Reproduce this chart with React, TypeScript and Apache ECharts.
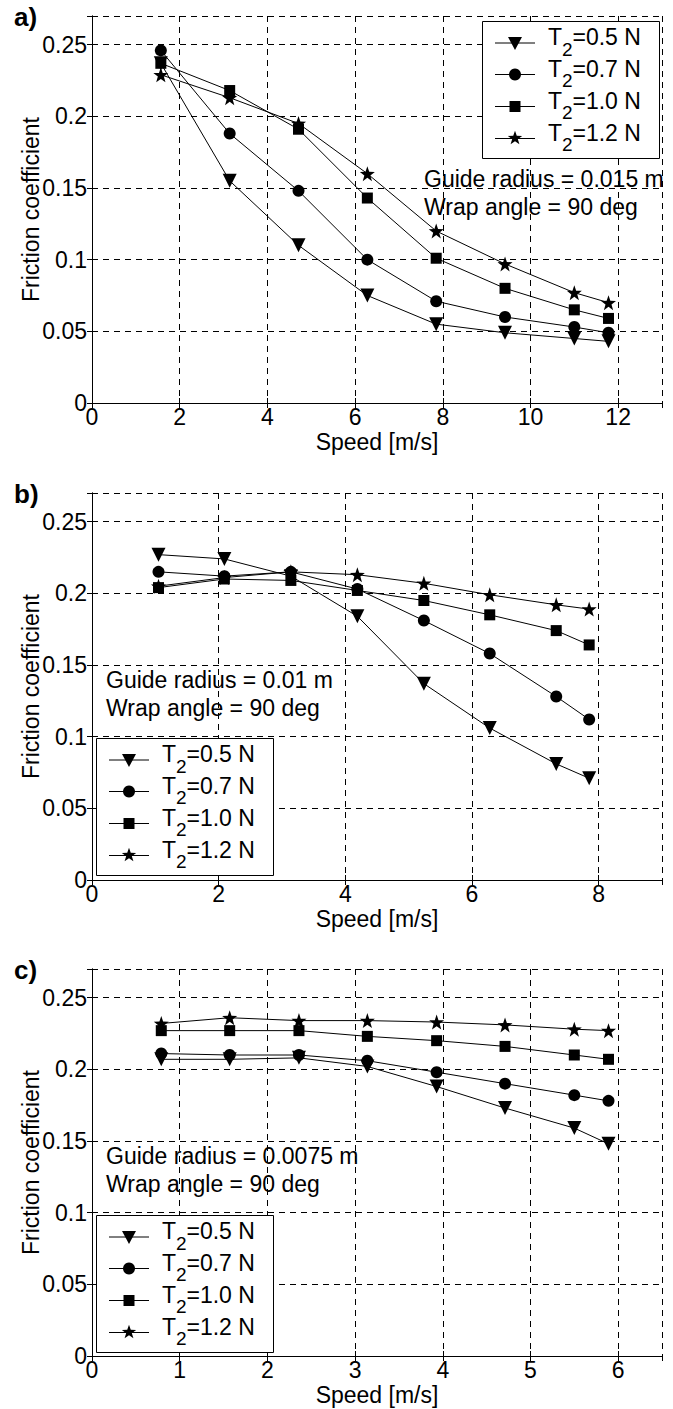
import React, { useEffect, useRef } from 'react';
import * as echarts from 'echarts';

// ---------- data ----------
const seriesNames = ['T2=0.5 N', 'T2=0.7 N', 'T2=1.0 N', 'T2=1.2 N'];
const legendRest = ['=0.5 N', '=0.7 N', '=1.0 N', '=1.2 N'];

const speedA = [1.57, 3.14, 4.71, 6.28, 7.85, 9.42, 11.0, 11.78];
const aT05 = [0.237, 0.155, 0.110, 0.075, 0.055, 0.049, 0.045, 0.043];
const aT07 = [0.246, 0.188, 0.148, 0.100, 0.071, 0.060, 0.053, 0.049];
const aT10 = [0.237, 0.218, 0.191, 0.143, 0.101, 0.080, 0.065, 0.059];
const aT12 = [0.229, 0.213, 0.195, 0.160, 0.120, 0.097, 0.077, 0.070];

const speedB = [1.05, 2.09, 3.14, 4.19, 5.24, 6.28, 7.33, 7.85];
const bT05 = [0.227, 0.224, 0.212, 0.184, 0.137, 0.106, 0.081, 0.071];
const bT07 = [0.215, 0.212, 0.215, 0.203, 0.181, 0.158, 0.128, 0.112];
const bT10 = [0.204, 0.210, 0.209, 0.202, 0.195, 0.185, 0.174, 0.164];
const bT12 = [0.205, 0.211, 0.215, 0.213, 0.207, 0.199, 0.192, 0.189];

const speedC = [0.79, 1.57, 2.36, 3.14, 3.93, 4.71, 5.5, 5.89];
const cT05 = [0.207, 0.207, 0.208, 0.202, 0.188, 0.173, 0.159, 0.148];
const cT07 = [0.211, 0.210, 0.210, 0.206, 0.198, 0.190, 0.182, 0.178];
const cT10 = [0.227, 0.227, 0.227, 0.223, 0.220, 0.216, 0.210, 0.207];
const cT12 = [0.232, 0.236, 0.234, 0.234, 0.233, 0.231, 0.228, 0.227];

const panelSpeeds = [speedA, speedB, speedC];
const panelValues = [
  [aT05, aT07, aT10, aT12],
  [bT05, bT07, bT10, bT12],
  [cT05, cT07, cT10, cT12],
];

const yMax = 0.27;
const yInterval = 0.05;
const xMaxes = [13, 9, 6.5];
const xIntervals = [2, 2, 1];

const panelLabels = ['a)', 'b)', 'c)'];
const guideTexts = ['Guide radius = 0.015 m', 'Guide radius = 0.01 m', 'Guide radius = 0.0075 m'];
const wrapText = 'Wrap angle = 90 deg';
const xName = 'Speed [m/s]';
const yName = 'Friction coefficient';

// ---------- layout / style ----------
const FONT = '"Liberation Sans", Arial, Helvetica, sans-serif';
const FS = 23;
const W = 673;
const H = 1409;
const GRID_LEFT = 92;
const GRID_W = 570;
const GRID_H = 387;
const GRID_TOPS = [16, 493, 969];
const YNAME_X = 31;
const LEGEND_POS = [
  [482, 21],
  [96, 738],
  [96, 1215],
];
const LEGEND_W = 177;
const LEGEND_H = 137;
const LEGEND_ROWS = [22, 53.5, 85.5, 117.5];
const NOTE_POS = [
  [424, 179, 207],
  [106, 680, 708],
  [106, 1156, 1184],
];

const STAR =
  'path://M50,0L61.76,33.82L97.55,34.55L69.02,56.18L79.39,90.45L50,70L20.61,90.45L30.98,56.18L2.45,34.55L38.24,33.82Z';
const SYMBOLS = ['triangle', 'circle', 'rect', STAR];
const SYMBOL_ROT = [180, 0, 0, 0];
const SYMBOL_SIZE = [14, 12, 11, 15];

function legendMarker(i: number, cx: number, cy: number): any {
  const style = { fill: '#000', stroke: '#000', lineWidth: 0 };
  if (i === 0) {
    return { type: 'polygon', shape: { points: [[cx - 7, cy - 6], [cx + 7, cy - 6], [cx, cy + 7]] }, style };
  }
  if (i === 1) {
    return { type: 'circle', shape: { cx, cy, r: 6 }, style };
  }
  if (i === 2) {
    return { type: 'rect', shape: { x: cx - 5.5, y: cy - 5.5, width: 11, height: 11 }, style };
  }
  const pts: number[][] = [
    [50, 0], [61.76, 33.82], [97.55, 34.55], [69.02, 56.18], [79.39, 90.45],
    [50, 70], [20.61, 90.45], [30.98, 56.18], [2.45, 34.55], [38.24, 33.82],
  ].map(([px, py]) => [cx + (px - 50) * 0.15, cy + (py - 52) * 0.15]);
  return { type: 'polygon', shape: { points: pts }, style };
}

function buildOption() {
  const grid: any[] = [];
  const xAxis: any[] = [];
  const yAxis: any[] = [];
  const series: any[] = [];
  const graphic: any[] = [];

  const axisLine = { show: true, lineStyle: { color: '#000', width: 1 } };
  const tickIn = { show: true, inside: true, length: 5, lineStyle: { color: '#000', width: 1 } };
  const dashed = { show: true, lineStyle: { color: '#000', width: 1, type: [6, 5] } };
  const label = { color: '#000', fontSize: FS, fontFamily: FONT };

  for (let p = 0; p < 3; p++) {
    grid.push({ left: GRID_LEFT, top: GRID_TOPS[p], width: GRID_W, height: GRID_H, containLabel: false });
  }
  for (let p = 0; p < 3; p++) {
    xAxis.push({
      type: 'value', gridIndex: p, position: 'bottom', min: 0, max: xMaxes[p], interval: xIntervals[p],
      axisLine, axisTick: tickIn, splitLine: dashed,
      axisLabel: { ...label, margin: 2, showMaxLabel: false, lineHeight: 23 },
      name: xName, nameLocation: 'middle', nameGap: 27, nameMoveOverlap: false,
      nameTextStyle: { color: '#000', fontSize: FS, fontFamily: FONT, lineHeight: 23 },
    });
  }
  for (let p = 0; p < 3; p++) {
    xAxis.push({
      type: 'value', gridIndex: p, position: 'top', min: 0, max: xMaxes[p], interval: xIntervals[p],
      axisLine, axisTick: tickIn, splitLine: { show: false }, axisLabel: { show: false },
    });
  }
  for (let p = 0; p < 3; p++) {
    yAxis.push({
      type: 'value', gridIndex: p, position: 'left', min: 0, max: yMax, interval: yInterval,
      axisLine, axisTick: tickIn, splitLine: dashed,
      axisLabel: { ...label, margin: 5, showMaxLabel: false },
    });
  }
  for (let p = 0; p < 3; p++) {
    yAxis.push({
      type: 'value', gridIndex: p, position: 'right', min: 0, max: yMax, interval: yInterval,
      axisLine, axisTick: tickIn, splitLine: { show: false }, axisLabel: { show: false },
    });
  }

  for (let p = 0; p < 3; p++) {
    const xs = panelSpeeds[p];
    panelValues[p].forEach((vals, i) => {
      series.push({
        type: 'line',
        name: seriesNames[i],
        xAxisIndex: p,
        yAxisIndex: p,
        data: xs.map((x, k) => [x, vals[k]]),
        symbol: SYMBOLS[i],
        symbolRotate: SYMBOL_ROT[i],
        symbolSize: SYMBOL_SIZE[i],
        showAllSymbol: true,
        lineStyle: { color: '#000', width: 1 },
        itemStyle: { color: '#000', borderWidth: 0 },
        z: 3,
      });
    });

    // y axis title (rotated)
    graphic.push({
      type: 'text', x: YNAME_X, y: GRID_TOPS[p] + GRID_H / 2, rotation: Math.PI / 2, z: 10,
      style: { text: yName, fill: '#000', font: `${FS}px ${FONT}`, align: 'center', verticalAlign: 'middle' },
    });

    graphic.push({
      type: 'text', x: 14, y: GRID_TOPS[p] + 1, z: 10,
      style: { text: panelLabels[p], fill: '#000', font: `bold 26px ${FONT}`, align: 'left', verticalAlign: 'middle' },
    });

    const [nx, ny1, ny2] = NOTE_POS[p];
    graphic.push({
      type: 'text', x: nx, y: ny1, z: 10,
      style: { text: guideTexts[p], fill: '#000', font: `${FS}px ${FONT}`, align: 'left', verticalAlign: 'middle' },
    });
    graphic.push({
      type: 'text', x: nx, y: ny2, z: 10,
      style: { text: wrapText, fill: '#000', font: `${FS}px ${FONT}`, align: 'left', verticalAlign: 'middle' },
    });

    const [lx, ly] = LEGEND_POS[p];
    graphic.push({
      type: 'rect', z: 20,
      shape: { x: lx + 0.5, y: ly + 0.5, width: LEGEND_W, height: LEGEND_H },
      style: { fill: '#fff', stroke: '#000', lineWidth: 1 },
    });
    LEGEND_ROWS.forEach((ry, i) => {
      const cy = ly + ry;
      graphic.push({
        type: 'line', z: 21,
        shape: { x1: lx + 13, y1: cy, x2: lx + 53, y2: cy },
        style: { stroke: '#000', lineWidth: 1 },
      });
      graphic.push({ ...legendMarker(i, lx + 33, cy), z: 22 });
      graphic.push({
        type: 'text', x: lx + 66, y: cy - 6, z: 22,
        style: { text: 'T', fill: '#000', font: `${FS}px ${FONT}`, align: 'left', verticalAlign: 'middle' },
      });
      graphic.push({
        type: 'text', x: lx + 80, y: cy + 6, z: 22,
        style: { text: '2', fill: '#000', font: `19px ${FONT}`, align: 'left', verticalAlign: 'middle' },
      });
      graphic.push({
        type: 'text', x: lx + 90.5, y: cy - 6, z: 22,
        style: { text: legendRest[i], fill: '#000', font: `${FS}px ${FONT}`, align: 'left', verticalAlign: 'middle' },
      });
    });
  }

  return {
    animation: false,
    backgroundColor: '#fff',
    textStyle: { fontFamily: FONT, color: '#000' },
    grid,
    xAxis,
    yAxis,
    series,
    graphic,
  };
}

export default function App() {
  const ref = useRef<HTMLDivElement>(null);
  useEffect(() => {
    if (!ref.current) return;
    const chart = echarts.init(ref.current, null, { renderer: 'svg' });
    chart.setOption(buildOption() as any);
    return () => chart.dispose();
  }, []);
  return (
    <div
      ref={ref}
      style={{ position: 'absolute', left: 0, top: 0, width: W, height: H, background: '#fff' }}
    />
  );
}
